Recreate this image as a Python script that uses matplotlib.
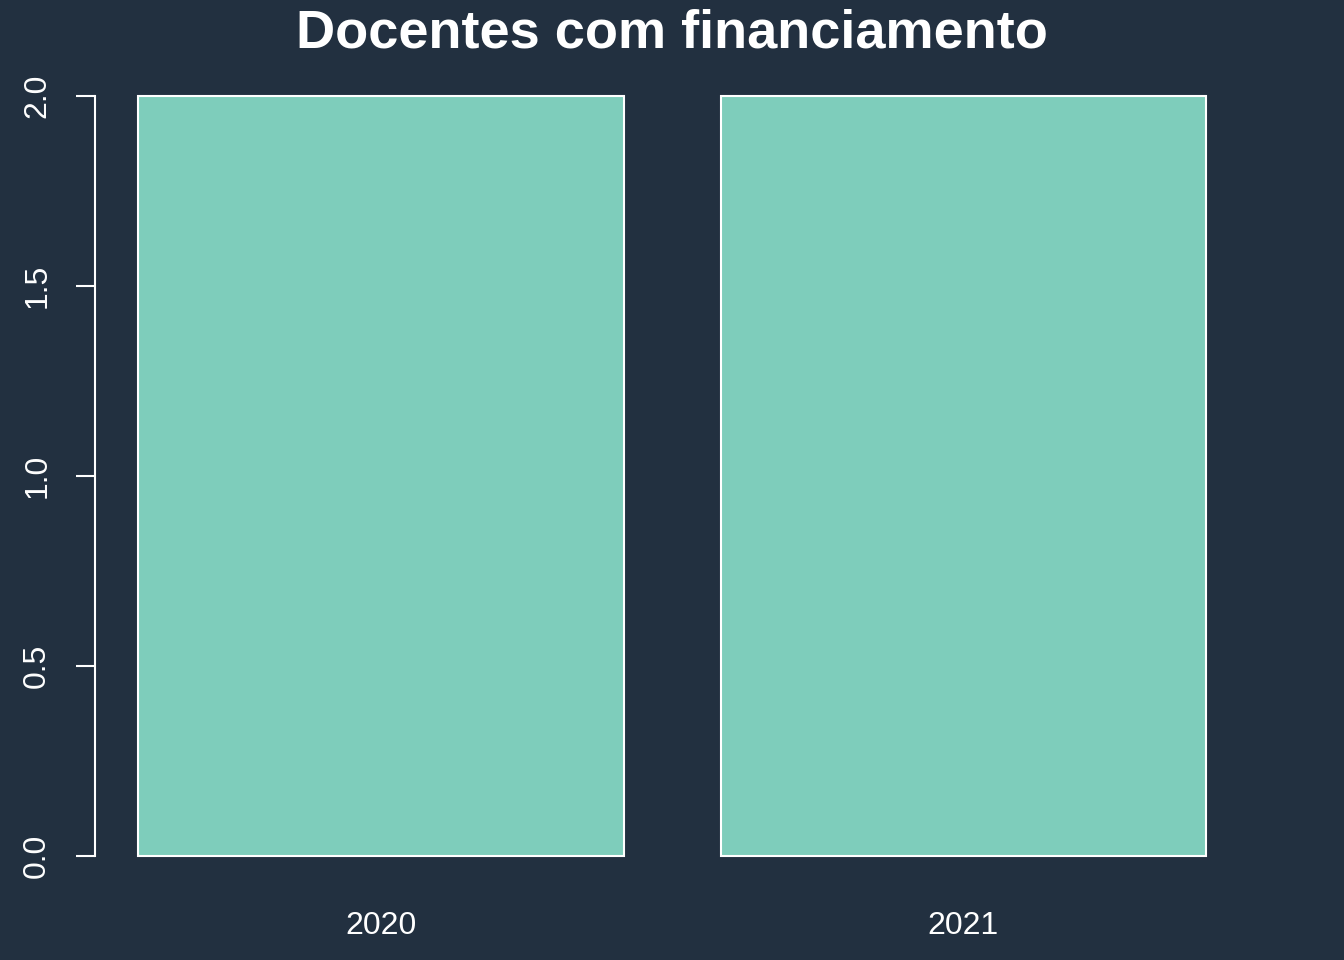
import matplotlib.pyplot as plt
import numpy as np

plt.rcParams['font.family'] = ['Liberation Sans', 'DejaVu Sans']

years = ['2020', '2021']
docentes = [2, 2]
y_ticks = [0.0, 0.5, 1.0, 1.5, 2.0]

bg = '#223040'
bar_color = '#7ecdbb'
W, H = 1344, 960

fig = plt.figure(figsize=(13.44, 9.6), dpi=100, facecolor=bg)
# plot region like R's barplot (4% padding around data range)
left, right, top, bottom = 95.2, 1249.0, 65.6, 886.4
ax = fig.add_axes([left / W, 1 - bottom / H, (right - left) / W, (bottom - top) / H])
ax.set_facecolor(bg)

# R barplot geometry: width 1, space 0.2
x = 0.2 + np.arange(len(years)) * 1.2 + 0.5
ax.bar(x, docentes, width=1.0, color=bar_color, edgecolor='white', linewidth=1.5)

xr = (0.2, 0.2 + 1.2 * len(years) - 0.2)
pad = 0.04 * (xr[1] - xr[0])
ax.set_xlim(xr[0] - pad, xr[1] + pad)
ymax = max(docentes)
ax.set_ylim(-0.04 * ymax, ymax * 1.04)

for s in ['top', 'right', 'bottom']:
    ax.spines[s].set_visible(False)
ax.spines['left'].set_color('white')
ax.spines['left'].set_linewidth(1.5)
ax.spines['left'].set_bounds(0, ymax)

ax.set_yticks(y_ticks)
ax.set_yticklabels([f'{v:.1f}' for v in y_ticks], rotation=90, va='center')
ax.tick_params(axis='y', colors='white', length=14, width=1.5, labelsize=23, pad=17)

ax.set_xticks(x)
ax.set_xticklabels(years)
ax.tick_params(axis='x', colors='white', length=0, labelsize=23, pad=18)

fig.text(0.5, 1 - 34 / H, 'Docentes com financiamento', color='white',
         fontsize=39, fontweight='bold', ha='center', va='center')

fig.savefig('out.png', dpi=100, facecolor=bg)
